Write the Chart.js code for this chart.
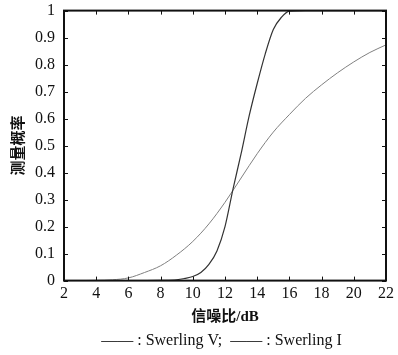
<!DOCTYPE html>
<html>
<head>
<meta charset="utf-8">
<script src="https://cdn.jsdelivr.net/npm/chart.js@4"></script>
<style>
  html, body { margin: 0; padding: 0; background: #fff; }
  #wrap { width: 398px; height: 355px; }
</style>
</head>
<body>
<div id="wrap"><canvas id="chart" width="398" height="355"></canvas></div>
<script>
/* Data */
var snrV = [2, 4, 6, 8, 9, 9.5, 10, 10.5, 11, 11.5, 12, 12.5, 13, 13.5, 14, 14.5, 15, 15.5, 16, 17, 18, 20, 22];
var probV = [0, 0, 0, 0.001, 0.003, 0.008, 0.015, 0.03, 0.06, 0.11, 0.2, 0.34, 0.47, 0.61, 0.73, 0.84, 0.93, 0.975, 0.998, 1, 1, 1, 1];

var snrI = [2, 3, 4, 5, 6, 7, 8, 9, 10, 11, 12, 13, 14, 15, 16, 17, 18, 19, 20, 21, 22];
var probI = [0, 0, 0.001, 0.003, 0.01, 0.03, 0.055, 0.095, 0.145, 0.21, 0.29, 0.38, 0.47, 0.55, 0.615, 0.675, 0.725, 0.77, 0.81, 0.845, 0.873];

var xTicks = [2, 4, 6, 8, 10, 12, 14, 16, 18, 20, 22];
var yTicks = [0, 0.1, 0.2, 0.3, 0.4, 0.5, 0.6, 0.7, 0.8, 0.9, 1];

var serif = '"Liberation Serif", "Noto Sans CJK SC", serif';
var pad = '\u00a0\u00a0\u00a0\u00a0\u00a0\u00a0\u00a0\u00a0\u00a0\u00a0\u00a0';

var toPoints = function(xs, ys){
	return xs.map(function(x, i){ return { x: x, y: ys[i] }; });
};

/* MATLAB style box with inward ticks */
var boxPlugin = {
	id: 'box',
	afterDraw: function(chart){
		var ctx = chart.ctx;
		var a = chart.chartArea;
		var xs = chart.scales.x;
		var ys = chart.scales.y;
		var len = 4;
		ctx.save();
		ctx.strokeStyle = '#111';
		ctx.lineWidth = 1;
		ctx.beginPath();
		xTicks.forEach(function(v){
			var px = Math.round(xs.getPixelForValue(v)) + 0.5;
			ctx.moveTo(px, a.bottom); ctx.lineTo(px, a.bottom - len);
			ctx.moveTo(px, a.top); ctx.lineTo(px, a.top + len);
		});
		yTicks.forEach(function(v){
			var py = Math.round(ys.getPixelForValue(v)) + 0.5;
			ctx.moveTo(a.left, py); ctx.lineTo(a.left + len, py);
			ctx.moveTo(a.right, py); ctx.lineTo(a.right - len, py);
		});
		ctx.stroke();
		ctx.lineWidth = 2;
		ctx.strokeRect(a.left, a.top, a.right - a.left, a.bottom - a.top);
		ctx.restore();
	}
};

var chartData = {
	datasets: [
		{
			label: 'Swerling V',
			data: toPoints(snrV, probV),
			borderColor: '#333333',
			borderWidth: 1.2,
			pointRadius: 0,
			showLine: true,
			cubicInterpolationMode: 'monotone'
		},
		{
			label: 'Swerling I',
			data: toPoints(snrI, probI),
			borderColor: '#808080',
			borderWidth: 1,
			pointRadius: 0,
			showLine: true,
			cubicInterpolationMode: 'monotone'
		}
	]
};

var options = {
	responsive: false,
	animation: false,
	layout: { padding: { left: 10, right: 9, top: 3, bottom: 5 } },
	plugins: {
		legend: { display: false },
		tooltip: { enabled: false },
		title: { display: false },
		subtitle: {
			display: true,
			position: 'bottom',
			text: pad + '—— : Swerling V;  —— : Swerling I',
			color: '#111',
			font: { family: serif, size: 16 },
			padding: { top: 5, bottom: 0 }
		}
	},
	scales: {
		x: {
			type: 'linear',
			min: 2,
			max: 22,
			afterBuildTicks: function(scale){
				scale.ticks = xTicks.map(function(v){ return { value: v }; });
			},
			grid: { display: false, drawTicks: false, tickLength: 0 },
			border: { display: false },
			ticks: {
				color: '#111',
				font: { family: serif, size: 16 },
				padding: 4,
				maxRotation: 0
			},
			title: {
				display: true,
				text: '信噪比/dB',
				color: '#111',
				font: { family: serif, size: 15, weight: 'bold' },
				padding: { top: 0, bottom: 0 }
			}
		},
		y: {
			min: 0,
			max: 1,
			afterBuildTicks: function(scale){
				scale.ticks = yTicks.map(function(v){ return { value: v }; });
			},
			grid: { display: false },
			border: { display: false },
			ticks: {
				color: '#111',
				font: { family: serif, size: 16 },
				padding: 1,
				callback: function(v){ return String(Math.round(v * 10) / 10); }
			},
			title: {
				display: true,
				text: '测量概率',
				color: '#111',
				font: { family: serif, size: 15, weight: 'bold' },
				padding: { top: 0, bottom: 6 }
			}
		}
	}
};

var chart = new Chart(document.getElementById('chart'), {
	type: 'scatter',
	data: chartData,
	options: options,
	plugins: [boxPlugin]
});
</script>
</body>
</html>
